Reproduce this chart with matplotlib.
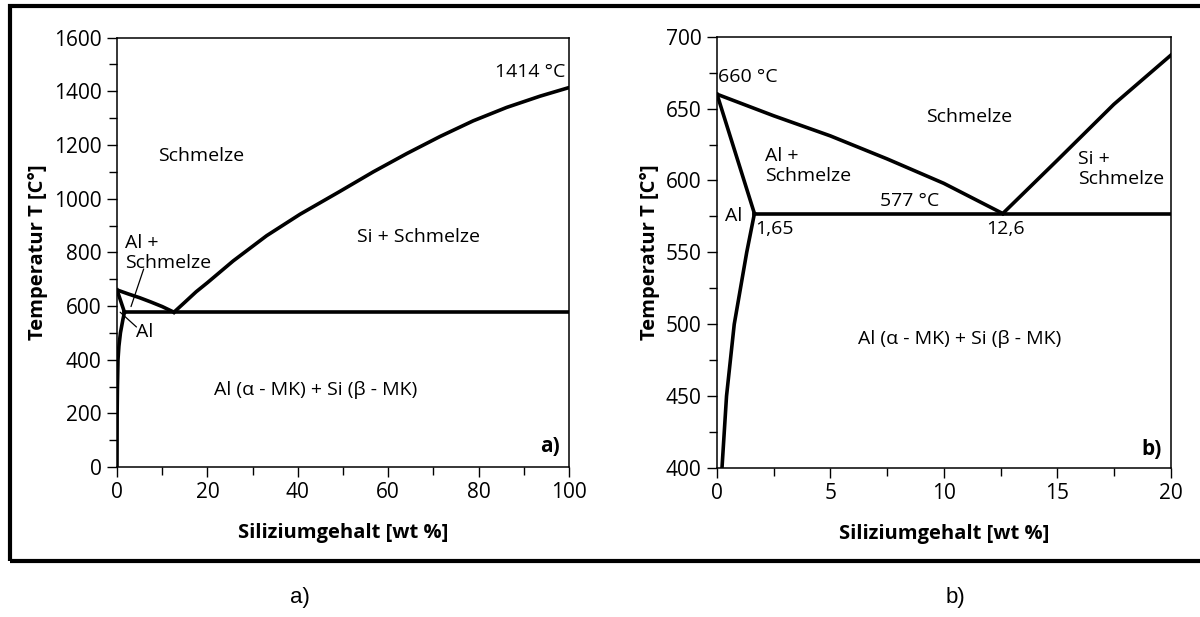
import matplotlib
matplotlib.use("Agg")
import matplotlib.pyplot as plt
from matplotlib.patches import Rectangle
from matplotlib.ticker import MultipleLocator

plt.rcParams["font.family"] = ["Open Sans", "DejaVu Sans"]

# Al-Si phase diagram
# liquidus on the Al side (660 °C -> eutectic)
LIQ_AL_X = [0, 2.5, 5, 7.5, 10, 12.6]
LIQ_AL_T = [660, 645, 631, 615, 598, 577]
# liquidus on the Si side (eutectic -> 1414 °C)
LIQ_SI_X = [12.6, 15, 17.5, 20, 25.7, 33.1, 40.5, 49.3, 56.7, 64.1, 71.5,
            78.8, 86.2, 93.6, 100]
LIQ_SI_T = [577, 614, 653, 687, 768, 862, 942, 1027, 1100, 1168, 1232,
            1290, 1340, 1382, 1414]
# solidus of the Al solid solution
SOL_X = [0, 1.65]
SOL_T = [660, 577]
# solvus of the Al solid solution
SOLV_X = [1.65, 1.31, 0.76, 0.42, 0.22, 0.1, 0.03, 0]
SOLV_T = [577, 550, 500, 450, 400, 300, 200, 0]
# eutectic line
EUT_X0, EUT_T = 1.65, 577

LW = 2.6
FS = 14


def draw_curves(ax, xmax):
    kw = dict(color="black", lw=LW, solid_joinstyle="round")
    ax.plot(LIQ_AL_X, LIQ_AL_T, **kw)
    ax.plot(LIQ_SI_X, LIQ_SI_T, **kw)
    ax.plot(SOL_X, SOL_T, **kw)
    ax.plot(SOLV_X, SOLV_T, **kw)
    ax.plot([EUT_X0, xmax], [EUT_T, EUT_T], **kw)


def style_axes(ax):
    for s in ax.spines.values():
        s.set_linewidth(1.1)
    ax.tick_params(which="both", direction="out", width=1.0, labelsize=15,
                   top=False, right=False, pad=4)
    ax.tick_params(which="major", length=7)
    ax.tick_params(which="minor", length=6)
    ax.set_xlabel("Siliziumgehalt [wt %]", fontsize=14.5, fontweight="bold",
                  labelpad=14)
    ax.set_ylabel("Temperatur T [C°]", fontsize=14.5, fontweight="bold",
                  labelpad=4)


fig = plt.figure(figsize=(12, 6.17), dpi=100)

# ---- a) full range
ax1 = fig.add_axes([0.0975, 0.243, 0.3767, 0.696])
draw_curves(ax1, 100)
ax1.set_xlim(0, 100)
ax1.set_ylim(0, 1600)
ax1.xaxis.set_major_locator(MultipleLocator(20))
ax1.xaxis.set_minor_locator(MultipleLocator(10))
ax1.yaxis.set_major_locator(MultipleLocator(200))
ax1.yaxis.set_minor_locator(MultipleLocator(100))
style_axes(ax1)

ax1.text(91.4, 1473, "1414 °C", fontsize=FS, ha="center", va="center")
ax1.text(18.6, 1160, "Schmelze", fontsize=FS, ha="center", va="center")
ax1.text(66.8, 857, "Si + Schmelze", fontsize=FS, ha="center", va="center")
ax1.text(1.7, 798, "Al +\nSchmelze", fontsize=FS, ha="left", va="center",
         linespacing=1.15)
ax1.text(4.3, 505, "Al", fontsize=FS, ha="left", va="center")
ax1.annotate("", xy=(3.1, 598), xytext=(5.9, 738),
             arrowprops=dict(arrowstyle="-", color="black", lw=0.9,
                             shrinkA=0, shrinkB=0))
ax1.annotate("", xy=(0.7, 577), xytext=(4.3, 522),
             arrowprops=dict(arrowstyle="-", color="black", lw=0.9,
                             shrinkA=0, shrinkB=0))
ax1.text(44, 289, "Al (α - MK) + Si (β - MK)", fontsize=FS, ha="center",
         va="center")
ax1.text(98, 76, "a)", fontsize=15, fontweight="bold", ha="right", va="center")

# ---- b) zoom on the Al-rich side
ax2 = fig.add_axes([0.5975, 0.2415, 0.378, 0.699])
draw_curves(ax2, 20)
ax2.set_xlim(0, 20)
ax2.set_ylim(400, 700)
ax2.xaxis.set_major_locator(MultipleLocator(5))
ax2.xaxis.set_minor_locator(MultipleLocator(2.5))
ax2.yaxis.set_major_locator(MultipleLocator(50))
ax2.yaxis.set_minor_locator(MultipleLocator(25))
style_axes(ax2)

ax2.text(0.03, 672, "660 °C", fontsize=FS, ha="left", va="center")
ax2.text(11.1, 644, "Schmelze", fontsize=FS, ha="center", va="center")
ax2.text(2.1, 610, "Al +\nSchmelze", fontsize=FS, ha="left", va="center",
         linespacing=1.15)
ax2.text(15.9, 608, "Si +\nSchmelze", fontsize=FS, ha="left", va="center",
         linespacing=1.15)
ax2.text(8.5, 585.7, "577 °C", fontsize=FS, ha="center", va="center")
ax2.text(0.72, 575, "Al", fontsize=FS, ha="center", va="center")
ax2.text(2.53, 566.5, "1,65", fontsize=FS, ha="center", va="center")
ax2.text(12.7, 566.5, "12,6", fontsize=FS, ha="center", va="center")
ax2.text(10.7, 490, "Al (α - MK) + Si (β - MK)", fontsize=FS, ha="center",
         va="center")
ax2.text(19.6, 413, "b)", fontsize=15, fontweight="bold", ha="right",
         va="center")

# outer frame around both panels (open on the right edge)
fig.patches.append(Rectangle((10 / 1200, 1 - 561 / 617), 1.2, (561 - 6) / 617,
                             transform=fig.transFigure, fill=False,
                             edgecolor="black", lw=3.0))

fig.text(300 / 1200, 1 - 597 / 617, "a)", family="Liberation Sans",
         fontsize=16, ha="center", va="center")
fig.text(955 / 1200, 1 - 597 / 617, "b)", family="Liberation Sans",
         fontsize=16, ha="center", va="center")

fig.savefig("out.png", dpi=100, facecolor="white")
